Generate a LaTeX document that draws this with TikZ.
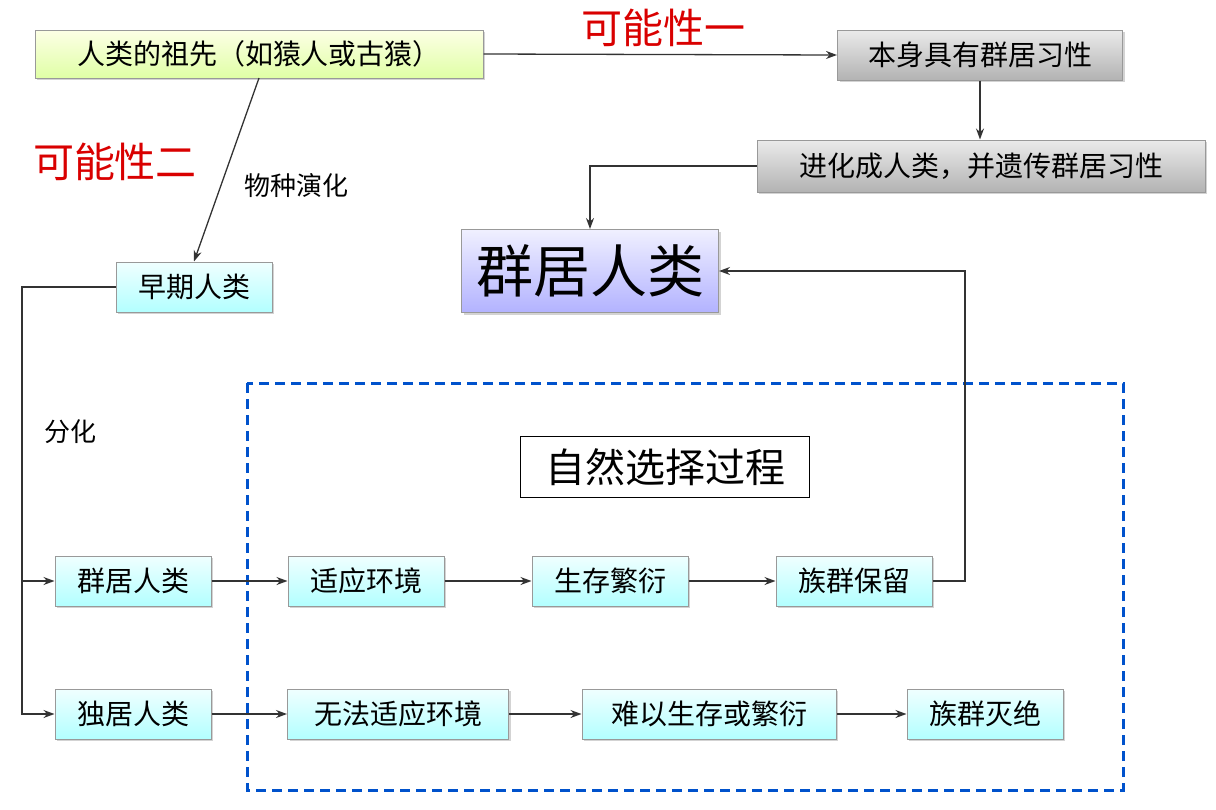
\documentclass[tikz,border=0pt]{standalone}
\usepackage{fontspec}
\setmainfont{Noto Sans CJK SC}
\usetikzlibrary{arrows.meta,shadows}
\begin{document}
\begin{tikzpicture}[x=1pt,y=-1pt,
  box/.style={draw=black!40,line width=1pt,minimum height=50pt,inner sep=0pt,font=\fontsize{28}{30}\selectfont,drop shadow={shadow xshift=2pt,shadow yshift=-2pt,opacity=0.35}},
  cy/.style={box,top color=cyan!6,bottom color=cyan!30},
  gr/.style={box,top color=black!8,bottom color=black!30},
  arr/.style={-{Stealth[length=11pt,width=8pt]},black!80,line width=1.3pt},
  red/.style={text=red!85!black,font=\fontsize{41}{44}\selectfont}]
\useasboundingbox (0,0) rectangle (1216,809);
\node[box,top color=green!8!yellow!10,bottom color=green!35!yellow!35,minimum width=448pt,minimum height=48pt] (anc) at (259,54) {人类的祖先（如猿人或古猿）};
\node[red] (p1) at (663,28) {可能性一};
\node[gr,minimum width=285pt] (hab) at (980,55) {本身具有群居习性};
\node[gr,minimum width=448pt,minimum height=52pt] (evo) at (981,166) {进化成人类，并遗传群居习性};
\node[red] (p2) at (115,162) {可能性二};
\node[font=\fontsize{26}{28}\selectfont] (wz) at (296,186) {物种演化};
\node[cy,minimum width=156pt] (early) at (194,287) {早期人类};
\node[box,top color=blue!6,bottom color=blue!30,minimum width=257pt,minimum height=83pt,font=\fontsize{57}{60}\selectfont] (big) at (590,271) {群居人类};
\draw[blue!60!cyan!80!black,line width=3pt,dash pattern=on 10pt off 6pt] (247,383) rectangle (1123,790);
\node[draw,line width=1pt,fill=white,minimum width=289pt,minimum height=61pt,font=\fontsize{40}{44}\selectfont] (ns) at (665,467) {自然选择过程};
\node[font=\fontsize{26}{28}\selectfont] (fh) at (70,432) {分化};
\node[cy,minimum width=156pt] (g1) at (133,581) {群居人类};
\node[cy,minimum width=156pt] (g2) at (366,581) {适应环境};
\node[cy,minimum width=156pt] (g3) at (610,581) {生存繁衍};
\node[cy,minimum width=156pt] (g4) at (854,581) {族群保留};
\node[cy,minimum width=156pt] (s1) at (133,714) {独居人类};
\node[cy,minimum width=221pt] (s2) at (398,714) {无法适应环境};
\node[cy,minimum width=254pt] (s3) at (709,714) {难以生存或繁衍};
\node[cy,minimum width=156pt] (s4) at (985,714) {族群灭绝};
\coordinate (L) at (22,287);
\draw[arr] (anc.east) -- (hab.west);
\draw[arr] (hab.south) -- (evo.north -| hab.south);
\draw[arr] (evo.west) -| (big.north);
\draw[arr] (259,78) -- (early.north);
\draw[arr] (early.west) -- (L) |- (g1.west);
\draw[arr] (L) |- (s1.west);
\draw[arr] (g1) -- (g2); \draw[arr] (g2) -- (g3); \draw[arr] (g3) -- (g4);
\draw[arr] (s1) -- (s2); \draw[arr] (s2) -- (s3); \draw[arr] (s3) -- (s4);
\draw[arr] (g4.east) -- (965,581) |- (big.east);
\end{tikzpicture}
\end{document}
